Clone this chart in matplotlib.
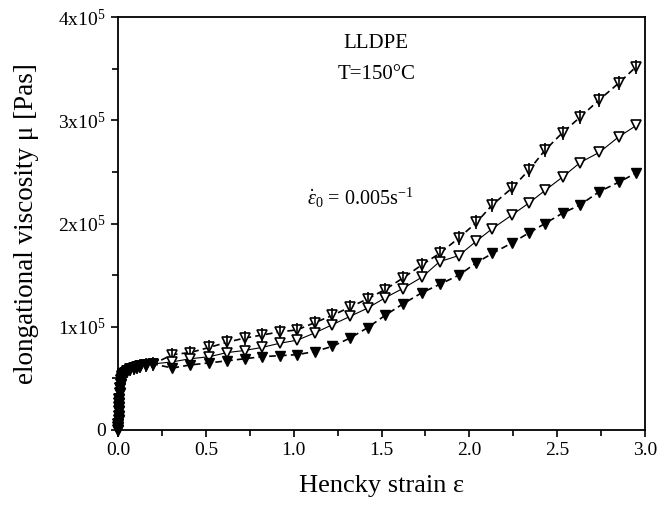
import matplotlib
matplotlib.use('Agg')
import matplotlib.pyplot as plt
from matplotlib.ticker import FixedLocator, FuncFormatter

plt.rcParams['font.family'] = ['Liberation Serif', 'DejaVu Serif']
plt.rcParams['mathtext.fontset'] = 'custom'
plt.rcParams['mathtext.rm'] = 'Liberation Serif'
plt.rcParams['mathtext.it'] = 'Liberation Serif:italic'

# Hencky strain (shared by the three runs)
strain = [0.0, 0.001, 0.002, 0.003, 0.004, 0.005, 0.006, 0.007, 0.008, 0.01,
          0.012, 0.015, 0.018, 0.02, 0.025, 0.03, 0.04,
          0.05, 0.07, 0.09, 0.11, 0.125, 0.16, 0.2,
          0.31, 0.41, 0.52, 0.62, 0.72, 0.82, 0.92, 1.02, 1.12, 1.22, 1.32,
          1.42, 1.52, 1.62, 1.73, 1.83, 1.94, 2.04, 2.13, 2.24, 2.34, 2.43,
          2.53, 2.63, 2.74, 2.85, 2.95]

# early start-up part, identical for all runs (units of 1e5 Pas)
start = [0.0, 0.03, 0.06, 0.1, 0.14, 0.18, 0.22, 0.26, 0.3, 0.36,
         0.41, 0.45, 0.48, 0.5, 0.52, 0.54, 0.55,
         0.57, 0.59, 0.6, 0.61, 0.62, 0.63, 0.64]

visc_top = start + [0.73, 0.75, 0.80, 0.85, 0.89, 0.92, 0.95, 0.97, 1.04, 1.11, 1.19,
                    1.27, 1.36, 1.47, 1.60, 1.71, 1.86, 2.01, 2.18, 2.34, 2.52, 2.71,
                    2.88, 3.03, 3.20, 3.36, 3.52]
visc_mid = start + [0.66, 0.69, 0.71, 0.75, 0.77, 0.80, 0.84, 0.87, 0.94, 1.02, 1.10,
                    1.18, 1.28, 1.37, 1.48, 1.63, 1.69, 1.83, 1.95, 2.08, 2.20, 2.32,
                    2.45, 2.59, 2.69, 2.84, 2.95]
visc_bot = start + [0.60, 0.63, 0.65, 0.67, 0.69, 0.71, 0.72, 0.73, 0.76, 0.81, 0.89,
                    0.99, 1.11, 1.22, 1.33, 1.41, 1.50, 1.62, 1.71, 1.81, 1.91, 2.00,
                    2.10, 2.18, 2.31, 2.40, 2.49]

fig = plt.figure(figsize=(6.72, 5.13), dpi=100)
ax = fig.add_axes([0.1756, 0.1618, 0.7844, 0.805])

scale = 1e5
ax.plot(strain, [v * scale for v in visc_top], color='black', lw=1.2,
        dashes=(4, 2.5), marker='v', ms=7, mfc='white', mec='black', mew=1.2,
        clip_on=False)
ax.plot(strain, [v * scale for v in visc_top], ls='none', marker='|',
        ms=10, mec='black', mew=1.2, clip_on=False)
ax.plot(strain, [v * scale for v in visc_mid], color='black', lw=0.8,
        marker='v', ms=7, mfc='white', mec='black', mew=1.2, clip_on=False)
ax.plot(strain, [v * scale for v in visc_bot], color='black', lw=1.2,
        dashes=(4, 2.5), marker='v', ms=7, mfc='black', mec='black',
        clip_on=False)

ax.set_xlim(0, 3.0)
ax.set_ylim(0, 4e5)
ax.xaxis.set_major_locator(FixedLocator([0, 0.5, 1.0, 1.5, 2.0, 2.5, 3.0]))
ax.xaxis.set_minor_locator(FixedLocator([0.25, 0.75, 1.25, 1.75, 2.25, 2.75]))
ax.yaxis.set_major_locator(FixedLocator([0, 1e5, 2e5, 3e5, 4e5]))
ax.yaxis.set_minor_locator(FixedLocator([0.5e5, 1.5e5, 2.5e5, 3.5e5]))
ax.xaxis.set_major_formatter(FuncFormatter(lambda v, p: '%.1f' % v))
ax.yaxis.set_major_formatter(FuncFormatter(
    lambda v, p: '0' if v == 0 else r'%dx10$^{5}$' % round(v / 1e5)))

ax.tick_params(which='both', direction='out', top=False, right=False,
               labelsize=14, width=1.2, pad=4)
ax.tick_params(which='major', length=5)
ax.tick_params(which='minor', length=4)
for s in ax.spines.values():
    s.set_linewidth(1.3)

ax.set_xlabel('Hencky strain ε', fontsize=19, labelpad=11)
ax.set_ylabel('elongational viscosity μ [Pas]', fontsize=19.5, labelpad=14)

ax.text(1.47, 3.74e5, 'LLDPE', fontsize=15, ha='center', va='center')
ax.text(1.47, 3.44e5, 'T=150°C', fontsize=15, ha='center', va='center')
ax.text(1.38, 2.25e5, r'$\dot{\varepsilon}_0$ = 0.005s$^{-1}$', fontsize=14.5,
        ha='center', va='center')

fig.savefig('out.png', dpi=100, facecolor='white')
